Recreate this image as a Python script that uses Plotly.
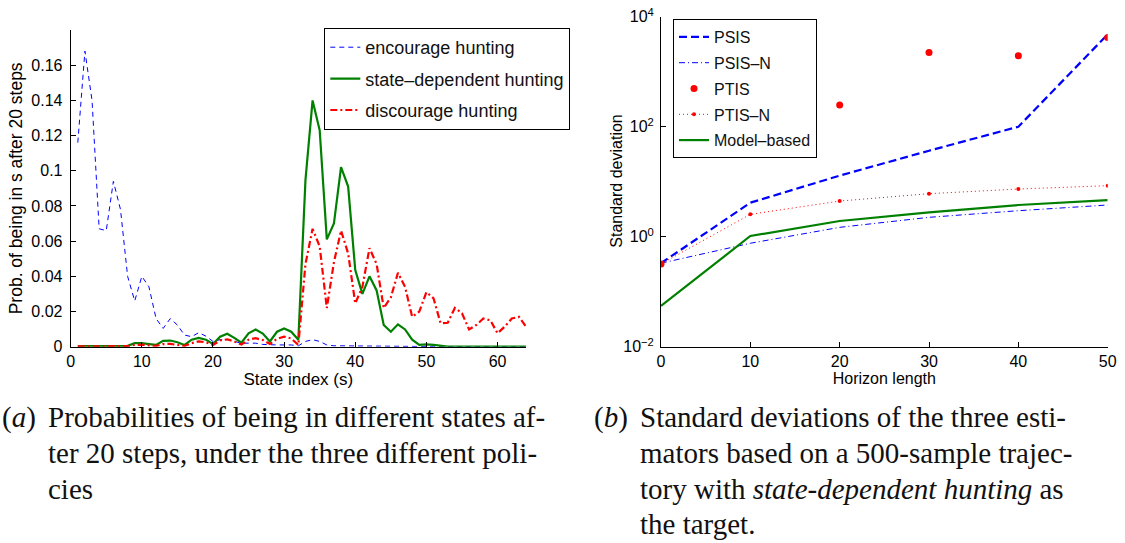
import plotly.graph_objects as go

# ---------------- data: left panel ----------------
states = list(range(1, 65))
encourage = [0.116, 0.168, 0.140, 0.067, 0.066, 0.094, 0.078, 0.040, 0.026, 0.040,
             0.034, 0.016, 0.0104, 0.016, 0.0123, 0.0066, 0.0057, 0.008, 0.006, 0.003,
             0.004, 0.004, 0.003, 0.002, 0.002, 0.002, 0.0013, 0.001, 0.001, 0.001,
             0.001, 0.0005, 0.003, 0.004, 0.003, 0.001, 0.0005, 0.0005, 0.0005, 0.0004,
             0.0004, 0.0003, 0.0003, 0.0003, 0.0002, 0.0002, 0.0002, 0.0001, 0.0001, 0.0001,
             0.0, 0.0, 0.0, 0.0, 0.0, 0.0, 0.0, 0.0, 0.0, 0.0,
             0.0, 0.0, 0.0, 0.0]
state_dep = [0.0003, 0.0003, 0.0003, 0.0003, 0.0005, 0.0005, 0.0005, 0.0005, 0.002, 0.002,
             0.0015, 0.001, 0.0033, 0.0035, 0.0025, 0.001, 0.004, 0.005, 0.004, 0.0015,
             0.0057, 0.0074, 0.005, 0.0023, 0.0076, 0.0098, 0.0075, 0.003, 0.0085, 0.0104,
             0.0085, 0.004, 0.0947, 0.140, 0.123, 0.061, 0.070, 0.102, 0.091, 0.0435,
             0.030, 0.040, 0.032, 0.0123, 0.0085, 0.0127, 0.0098, 0.004, 0.001, 0.0013,
             0.001, 0.0005, 0.0, 0.0, 0.0, 0.0, 0.0, 0.0, 0.0, 0.0,
             0.0, 0.0, 0.0, 0.0]
discourage = [0.0002, 0.0002, 0.0002, 0.0002, 0.0003, 0.0003, 0.0003, 0.0003, 0.001, 0.0012,
              0.0008, 0.0005, 0.0015, 0.0016, 0.001, 0.0005, 0.002, 0.003, 0.0025, 0.001,
              0.0035, 0.0042, 0.003, 0.0012, 0.004, 0.0048, 0.0038, 0.0015, 0.0045, 0.0057,
              0.0047, 0.001, 0.047, 0.067, 0.057, 0.022, 0.048, 0.066, 0.053, 0.0246,
              0.034, 0.056, 0.047, 0.022, 0.028, 0.042, 0.034, 0.017, 0.020, 0.031,
              0.0275, 0.0133, 0.0136, 0.022, 0.019, 0.0098, 0.0123, 0.016, 0.015, 0.0076,
              0.0114, 0.016, 0.017, 0.0114]
left_yticks = [0, 0.02, 0.04, 0.06, 0.08, 0.1, 0.12, 0.14, 0.16]
left_yticktext = ["0", "0.02", "0.04", "0.06", "0.08", "0.1", "0.12", "0.14", "0.16"]
left_xticks = [0, 10, 20, 30, 40, 50, 60]

# ---------------- data: right panel ----------------
horizon = [0, 10, 20, 30, 40, 50]
psis = [0.33, 4.15, 12.9, 36.6, 100, 4780]
psis_n = [0.33, 0.76, 1.48, 2.25, 2.97, 3.77]
ptis = [0.32, 31.4, 248, 2240, 1960, 4200]
ptis_n = [0.32, 2.55, 4.45, 6.05, 7.36, 8.46]
model_based = [0.055, 1.03, 1.93, 2.77, 3.77, 4.64]
right_yticks = [0.01, 1, 100, 10000]
right_yticktext = ["10<sup>\u22122</sup>", "10<sup>0</sup>", "10<sup>2</sup>", "10<sup>4</sup>"]

W, H = 1125, 543
def px(x):
    return x / W
def py(y):
    return 1 - y / H

SANS = "Liberation Sans"
SERIF = "Liberation Serif"

fig = go.Figure()

# left traces
fig.add_trace(go.Scatter(x=states, y=encourage, mode="lines", name="encourage hunting",
                         line=dict(color="#0000ff", width=1, dash="5px,4px"),
                         xaxis="x", yaxis="y", legend="legend", legendgroup="a1"))
fig.add_trace(go.Scatter(x=states, y=state_dep, mode="lines", name="state\u2013dependent hunting",
                         line=dict(color="#008000", width=2.2),
                         xaxis="x", yaxis="y", legend="legend", legendgroup="a2"))
fig.add_trace(go.Scatter(x=states, y=discourage, mode="lines", name="discourage hunting",
                         line=dict(color="#ff0000", width=2.2, dash="7px,3px,2px,3px"),
                         xaxis="x", yaxis="y", legend="legend", legendgroup="a3"))

# right traces
fig.add_trace(go.Scatter(x=horizon, y=psis, mode="lines", name="PSIS",
                         line=dict(color="#0000ff", width=2.2, dash="8px,4px"),
                         xaxis="x2", yaxis="y2", legend="legend2", legendgroup="b1"))
fig.add_trace(go.Scatter(x=horizon, y=psis_n, mode="lines", name="PSIS\u2013N",
                         line=dict(color="#0000ff", width=1, dash="6px,3px,1px,3px"),
                         xaxis="x2", yaxis="y2", legend="legend2", legendgroup="b2"))
fig.add_trace(go.Scatter(x=horizon, y=ptis, mode="markers", name="PTIS",
                         marker=dict(color="#ff0000", size=7),
                         xaxis="x2", yaxis="y2", legend="legend2", legendgroup="b3"))
fig.add_trace(go.Scatter(x=horizon, y=ptis_n, mode="lines+markers", name="PTIS\u2013N",
                         line=dict(color="#ff0000", width=1, dash="1px,3px"),
                         marker=dict(color="#ff0000", size=4),
                         xaxis="x2", yaxis="y2", legend="legend2", legendgroup="b4"))
fig.add_trace(go.Scatter(x=horizon, y=model_based, mode="lines", name="Model\u2013based",
                         line=dict(color="#008000", width=2.2),
                         xaxis="x2", yaxis="y2", legend="legend2", legendgroup="b5"))

axis_common = dict(showline=True, linecolor="black", linewidth=1, mirror=False,
                   ticks="inside", ticklen=5, tickcolor="black", showgrid=False,
                   zeroline=False, automargin=False,
                   tickfont=dict(family=SANS, size=16, color="black"))

fig.update_layout(
    template="none",
    width=W, height=H,
    margin=dict(l=0, r=0, t=0, b=0, pad=0, autoexpand=False),
    paper_bgcolor="white", plot_bgcolor="white",
    showlegend=True,
    xaxis=dict(domain=[px(70.7), px(526)], range=[0, 64], tickvals=left_xticks,
               title=dict(text="State index (s)", font=dict(family=SANS, size=17, color="black"), standoff=2),
               anchor="y", **axis_common),
    yaxis=dict(domain=[py(346.7), py(30)], range=[0, 0.18], tickvals=left_yticks,
               ticktext=left_yticktext, ticklabelstandoff=4,
               title=dict(text="Prob. of being in s after 20 steps", font=dict(family=SANS, size=17.5, color="black"), standoff=4),
               anchor="x", **axis_common),
    xaxis2=dict(domain=[px(661), px(1107.7)], range=[0, 50], tickvals=horizon,
                title=dict(text="Horizon length", font=dict(family=SANS, size=16, color="black"), standoff=2),
                anchor="y2", **axis_common),
    yaxis2=dict(domain=[py(346.7), py(16.7)], type="log", range=[-2, 4],
                tickvals=right_yticks, ticktext=right_yticktext, ticklabelstandoff=3,
                anchor="x2", **axis_common),
    legend=dict(x=px(324.3), y=py(28), xanchor="left", yanchor="top",
                bgcolor="white", bordercolor="black", borderwidth=1,
                font=dict(family=SANS, size=18, color="#111"), tracegroupgap=5),
    legend2=dict(x=px(673), y=py(19), xanchor="left", yanchor="top",
                 bgcolor="white", bordercolor="black", borderwidth=1,
                 font=dict(family=SANS, size=16, color="#111"), tracegroupgap=2),
)

# right panel y-axis title, placed precisely
fig.add_annotation(x=px(617), y=py(181.7), xref="paper", yref="paper",
                   text="Standard deviation", textangle=-90, showarrow=False,
                   xanchor="center", yanchor="middle",
                   font=dict(family=SANS, size=16, color="black"))

cap_font = dict(family=SERIF, size=29, color="#111")
def cap(x, y, text):
    fig.add_annotation(x=px(x), y=py(y), xref="paper", yref="paper", text=text,
                       showarrow=False, xanchor="left", yanchor="middle", font=cap_font)

cap(0, 417, "(<i>a</i>)")
cap(46, 417, "Probabilities of being in different states af-")
cap(46, 453, "ter 20 steps, under the three different poli-")
cap(46, 489, "cies")
cap(592, 417, "(<i>b</i>)")
cap(638, 417, "Standard deviations of the three esti-")
cap(638, 453, "mators based on a 500-sample trajec-")
cap(638, 489, "tory with <i>state-dependent hunting</i> as")
cap(638, 524, "the target.")

fig.write_html("out.html")
